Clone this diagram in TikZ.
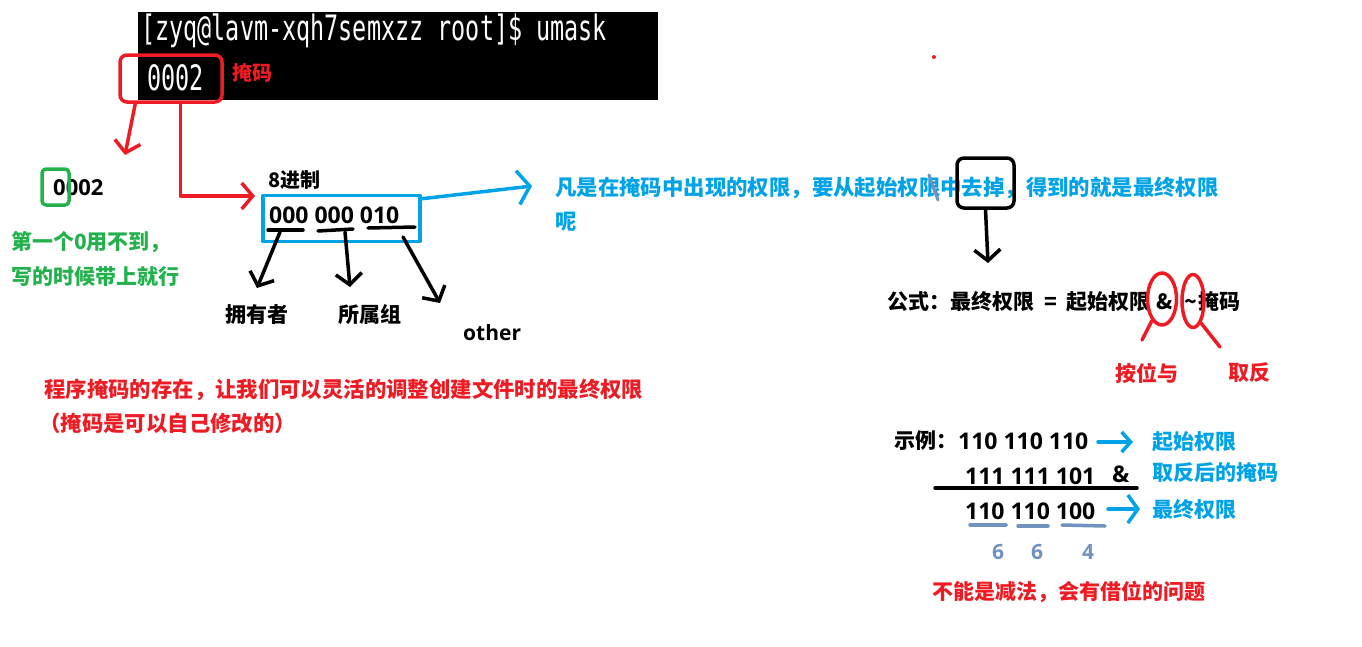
\documentclass[tikz,border=0pt]{standalone}
\usepackage{fontspec}
\setmainfont{Noto Sans CJK SC}
\newfontfamily\numfont{Open Sans}[BoldFont={Open Sans Bold}]
\newfontfamily\termfont{DejaVu Sans Mono}
\usepackage{xcolor}
\usetikzlibrary{arrows.meta,positioning,shapes.geometric}

\definecolor{paintred}{RGB}{237,28,36}
\definecolor{paintgreen}{RGB}{34,177,76}
\definecolor{paintblue}{RGB}{0,162,232}
\definecolor{paintgrey}{RGB}{112,146,190}

\begin{document}
\begin{tikzpicture}[
    x=1pt, y=-1pt,
    txt/.style={anchor=west, inner sep=0pt, font=\bfseries\fontsize{21}{25}\selectfont},
    bigtxt/.style={txt, font=\bfseries\fontsize{21.4}{26}\selectfont},
    num/.style={anchor=west, inner sep=0pt, font=\numfont\bfseries\fontsize{23}{27}\selectfont},
    termtxt/.style={anchor=west, inner sep=0pt, text=white, font=\termfont\fontsize{35}{40}\selectfont},
    pen/.style={line width=3.5pt, line cap=round, line join=round},
    arrow/.style={pen, -{Straight Barb[length=11pt, width=26pt]}},
    frame/.style={draw, pen, rounded corners=7pt, inner sep=0pt},
    ring/.style={draw=paintred, pen, ellipse, inner sep=0pt}
]
\useasboundingbox (0,0) rectangle (1362,646);

% Terminal
\node[fill=black, inner sep=0pt, minimum width=520, minimum height=88, anchor=north west] (shell) at (138,12) {};
\node[termtxt] (cmd) at (141,31) {\scalebox{0.67}[1]{[zyq@lavm-xqh7semxzz root]\$ umask}};
\node[termtxt] (out) at (147,78) {\scalebox{0.67}[1]{0002}};
\node[txt, text=paintred, font=\bfseries\fontsize{20}{24}\selectfont] (masklbl) at (232,73) {掩码};
\node[frame, draw=paintred, minimum width=102, minimum height=47] (maskbox) at (171,78.5) {};
\fill[paintred] (934,57) circle (2);

\coordinate (drop) at (125,155);
\coordinate (octin) at (255,196);
\draw[arrow, paintred] ([xshift=17pt]maskbox.south west) -- (drop);
\draw[arrow, paintred] ([xshift=62pt]maskbox.south west) |- (octin);

% First digit
\node[num, font=\numfont\bfseries\fontsize{22}{26}\selectfont] (full) at (53,188) {0002};
\node[frame, draw=paintgreen, rounded corners=4pt, minimum width=27, minimum height=36] (first0) at (55.5,187) {};
\node[txt, text=paintgreen] (note1) at (11,242) {第一个0用不到，};
\node[txt, text=paintgreen] (note2) at (11,277) {写的时候带上就行};

% Octal bits
\node[txt, font=\bfseries\fontsize{20}{24}\selectfont] (octlbl) at (268,180) {8进制};
\node[num] (bits) at (269,215) {000 000 010};
\node[frame, draw=paintblue, rounded corners=0pt, minimum width=157, minimum height=46] (octbox) at (341.5,218.5) {};

\draw[pen] (268,230) -- (303,230);
\draw[pen] (318,231) -- (353,229);
\draw[pen] (368,228) -- (415,227);

\coordinate (u1) at (280,232);
\coordinate (u2) at (345,232);
\coordinate (u3) at (403,237);
\coordinate (e1) at (257,288);
\coordinate (e2) at (350,287);
\coordinate (e3) at (440,303);
\draw[arrow] (u1) -- (e1);
\draw[arrow] (u2) -- (e2);
\draw[arrow] (u3) -- (e3);

\node[txt] (owner) at (225,315) {拥有者};
\node[txt] (group) at (338,315) {所属组};
\node[num, font=\numfont\bfseries\fontsize{21}{25}\selectfont] (other) at (463,333) {other};

% Rule
\coordinate (rulein) at (532,186);
\draw[arrow, paintblue, -{Straight Barb[length=12pt, width=34pt]}] ([yshift=-5pt]octbox.north east) -- (rulein);
\node[bigtxt, text=paintblue] (rule1) at (555,188) {凡是在掩码中出现的权限，要从起始权限中去掉，得到的就是最终权限};
\node[bigtxt, text=paintblue] (rule2) at (555,222) {呢};
\draw[pen, paintgrey, line width=3pt] (929,175) -- (938,200);
\node[frame, minimum width=57, minimum height=50] (qubox) at (985.5,183) {};
\coordinate (formtop) at (988,263);
\draw[arrow] (qubox.south) -- (formtop);

% Formula
\node[txt] (formula) at (887,302) {公式：最终权限\hspace{10pt}=\hspace{10pt}起始权限\hspace{6pt}\&\hspace{11pt}\textasciitilde\hspace{1pt}掩码};
\node[ring, minimum width=29, minimum height=52] (andring) at (1162,299) {};
\node[ring, minimum width=22, minimum height=53] (notring) at (1193,301) {};
\coordinate (andtail) at (1142,340);
\coordinate (nottail) at (1220,347);
\draw[pen, paintred] (andring.-115) -- (andtail);
\draw[pen, paintred] (notring.-70) -- (nottail);
\node[txt, text=paintred] (andlbl) at (1115,373) {按位与};
\node[txt, text=paintred] (notlbl) at (1228,373) {取反};

% Example
\node[txt] (ex) at (894,441) {示例：};
\node[num] (start) at (958,441) {110 110 110};
\node[num] (inv) at (965,476) {111 111 101};
\node[num] (amp) at (1112,474) {\&};
\draw[pen] (935,488) -- (1137,488);
\node[num] (final) at (965,511) {110 110 100};

\coordinate (s1) at (1098,442);
\coordinate (s2) at (1133,442);
\coordinate (f1) at (1108,509);
\coordinate (f2) at (1140,509);
\draw[arrow, paintblue, -{Straight Barb[length=9pt, width=20pt]}] (s1) -- (s2);
\draw[arrow, paintblue, -{Straight Barb[length=10pt, width=28pt]}] (f1) -- (f2);
\node[txt, text=paintblue, right=19pt of s2] (startlbl) {起始权限};
\node[txt, text=paintblue] (invlbl) at (1152,473) {取反后的掩码};
\node[txt, text=paintblue, right=12pt of f2] (finallbl) {最终权限};

\draw[pen, paintgrey] (970,525) -- (1006,525);
\draw[pen, paintgrey] (1018,526) -- (1048,526);
\draw[pen, paintgrey] (1062,525) -- (1105,526);
\foreach \d/\x [count=\i] in {6/998, 6/1037, 4/1088}
  \node[num, anchor=center, text=paintgrey, font=\numfont\bfseries\fontsize{21}{25}\selectfont] (oct\i) at (\x,552) {\d};

\node[txt, text=paintred] (nosub) at (932,592) {不能是减法，会有借位的问题};

% Note
\node[bigtxt, text=paintred] (why1) at (44,390) {程序掩码的存在，让我们可以灵活的调整创建文件时的最终权限};
\node[bigtxt, text=paintred] (why2) at (39,423) {（掩码是可以自己修改的）};

\end{tikzpicture}
\end{document}
